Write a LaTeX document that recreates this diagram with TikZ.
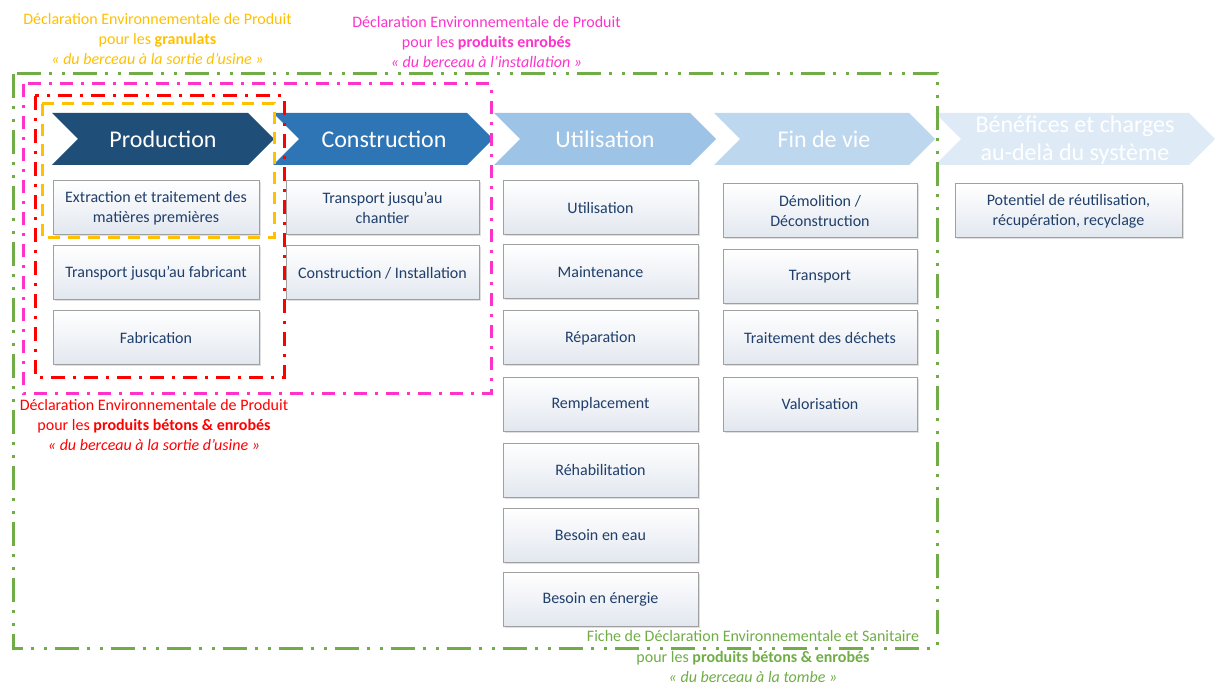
\documentclass[tikz,border=0pt]{standalone}
\usepackage{fontspec}
\setmainfont{Carlito}
\usetikzlibrary{shadows}
\definecolor{cOr}{HTML}{FFC000}
\definecolor{cPk}{HTML}{FF33CC}
\definecolor{cRd}{HTML}{FF0000}
\definecolor{cGr}{HTML}{70AD47}
\definecolor{cTx}{HTML}{203F6B}
\definecolor{cBorder}{HTML}{A0A0A0}
\definecolor{cBoxB}{HTML}{E2E7EF}
\definecolor{cP1}{HTML}{1F4E79}
\definecolor{cP2}{HTML}{2E75B6}
\definecolor{cP3}{HTML}{9DC3E6}
\definecolor{cP4}{HTML}{BDD7EE}
\definecolor{cP5}{HTML}{DEEBF7}
\tikzset{
  item/.style={draw=cBorder, line width=1pt, top color=white, bottom color=cBoxB,
    text=cTx, font=\fontsize{16}{20}\selectfont, align=center, inner sep=0pt,
    minimum height=54pt, drop shadow={shadow xshift=1.5pt, shadow yshift=-1.5pt, opacity=0.25}},
  chevtext/.style={text=white, font=\fontsize{24}{28}\selectfont, align=center, inner sep=0pt},
  frame/.style={line width=3pt},
  lab/.style={align=center, font=\fontsize{16}{20}\selectfont, inner sep=0pt},
}
\begin{document}
\begin{tikzpicture}[x=1pt,y=-1pt]
\useasboundingbox (0,0) rectangle (1215,684);
% chevrons
\fill[cP1] (52,113) -- (248,113) -- (274,139) -- (248,165) -- (52,165) -- (78,139) -- cycle;
\fill[cP2] (273,113) -- (467,113) -- (493,139) -- (467,165) -- (273,165) -- (299,139) -- cycle;
\fill[cP3] (494,113) -- (690,113) -- (716,139) -- (690,165) -- (494,165) -- (520,139) -- cycle;
\fill[cP4] (714,113) -- (909,113) -- (935,139) -- (909,165) -- (714,165) -- (740,139) -- cycle;
\fill[cP5] (935,113) -- (1189,113) -- (1215,139) -- (1189,165) -- (935,165) -- (961,139) -- cycle;
\node[chevtext] (cProd) at (163,139) {Production};
\node[chevtext] (cCons) at (384,139) {Construction};
\node[chevtext] (cUtil) at (605,139) {Utilisation};
\node[chevtext] (cFin) at (824,139) {Fin de vie};
\node[chevtext] (cBen) at (1075,140) {Bénéfices et charges\\au-delà du système};
% Production boxes
\node[item, minimum width=206pt] (p1) at (156,208) {Extraction et traitement des\\matières premières};
\node[item, minimum width=206pt] (p2) at (156,273) {Transport jusqu’au fabricant};
\node[item, minimum width=206pt] (p3) at (156,338) {Fabrication};
% Construction boxes
\node[item, minimum width=193pt] (c1) at (382.5,208) {Transport jusqu’au\\chantier};
\node[item, minimum width=193pt] (c2) at (382.5,273) {Construction / Installation};
% Utilisation boxes
\node[item, minimum width=195pt] (u1) at (600.5,208) {Utilisation};
\node[item, minimum width=195pt] (u2) at (600.5,272) {Maintenance};
\node[item, minimum width=195pt] (u3) at (600.5,338) {Réparation};
\node[item, minimum width=195pt] (u4) at (600.5,404) {Remplacement};
\node[item, minimum width=195pt] (u5) at (600.5,470) {Réhabilitation};
\node[item, minimum width=195pt] (u6) at (600.5,535) {Besoin en eau};
\node[item, minimum width=195pt] (u7) at (600.5,599) {Besoin en énergie};
% Fin de vie boxes
\node[item, minimum width=194pt] (f1) at (820,211) {Démolition /\\Déconstruction};
\node[item, minimum width=194pt] (f2) at (820,277) {Transport};
\node[item, minimum width=194pt] (f3) at (820,338) {Traitement des déchets};
\node[item, minimum width=194pt] (f4) at (820,404) {Valorisation};
% Benefices box
\node[item, minimum width=227pt] (b1) at (1068.5,211) {Potentiel de réutilisation,\\récupération, recyclage};
% frames
\draw[frame, cGr, dash pattern=on 24pt off 8pt on 3pt off 10pt on 3pt off 8pt] (13,74) rectangle (937,648);
\draw[frame, cPk, dash pattern=on 13pt off 8pt on 3pt off 8pt] (23,84) rectangle (491,393);
\draw[frame, cRd, dash pattern=on 14pt off 8pt on 3pt off 8pt] (35,96) rectangle (284,377);
\draw[frame, cOr, dash pattern=on 12pt off 8pt] (42,104) rectangle (274,238);
% labels
\node[lab, text=cOr] (lOr) at (157.5,39.5) {Déclaration Environnementale de Produit\\pour les \textbf{granulats}\\\textit{« du berceau à la sortie d’usine »}};
\node[lab, text=cPk] (lPk) at (486.5,42) {Déclaration Environnementale de Produit\\pour les \textbf{produits enrobés}\\\textit{« du berceau à l’installation »}};
\node[lab, text=cRd] (lRd) at (154,425) {Déclaration Environnementale de Produit\\pour les \textbf{produits bétons \& enrobés}\\\textit{« du berceau à la sortie d’usine »}};
\node[lab, text=cGr] (lGr) at (753,656.5) {Fiche de Déclaration Environnementale et Sanitaire\\pour les \textbf{produits bétons \& enrobés}\\\textit{« du berceau à la tombe »}};
\end{tikzpicture}
\end{document}
